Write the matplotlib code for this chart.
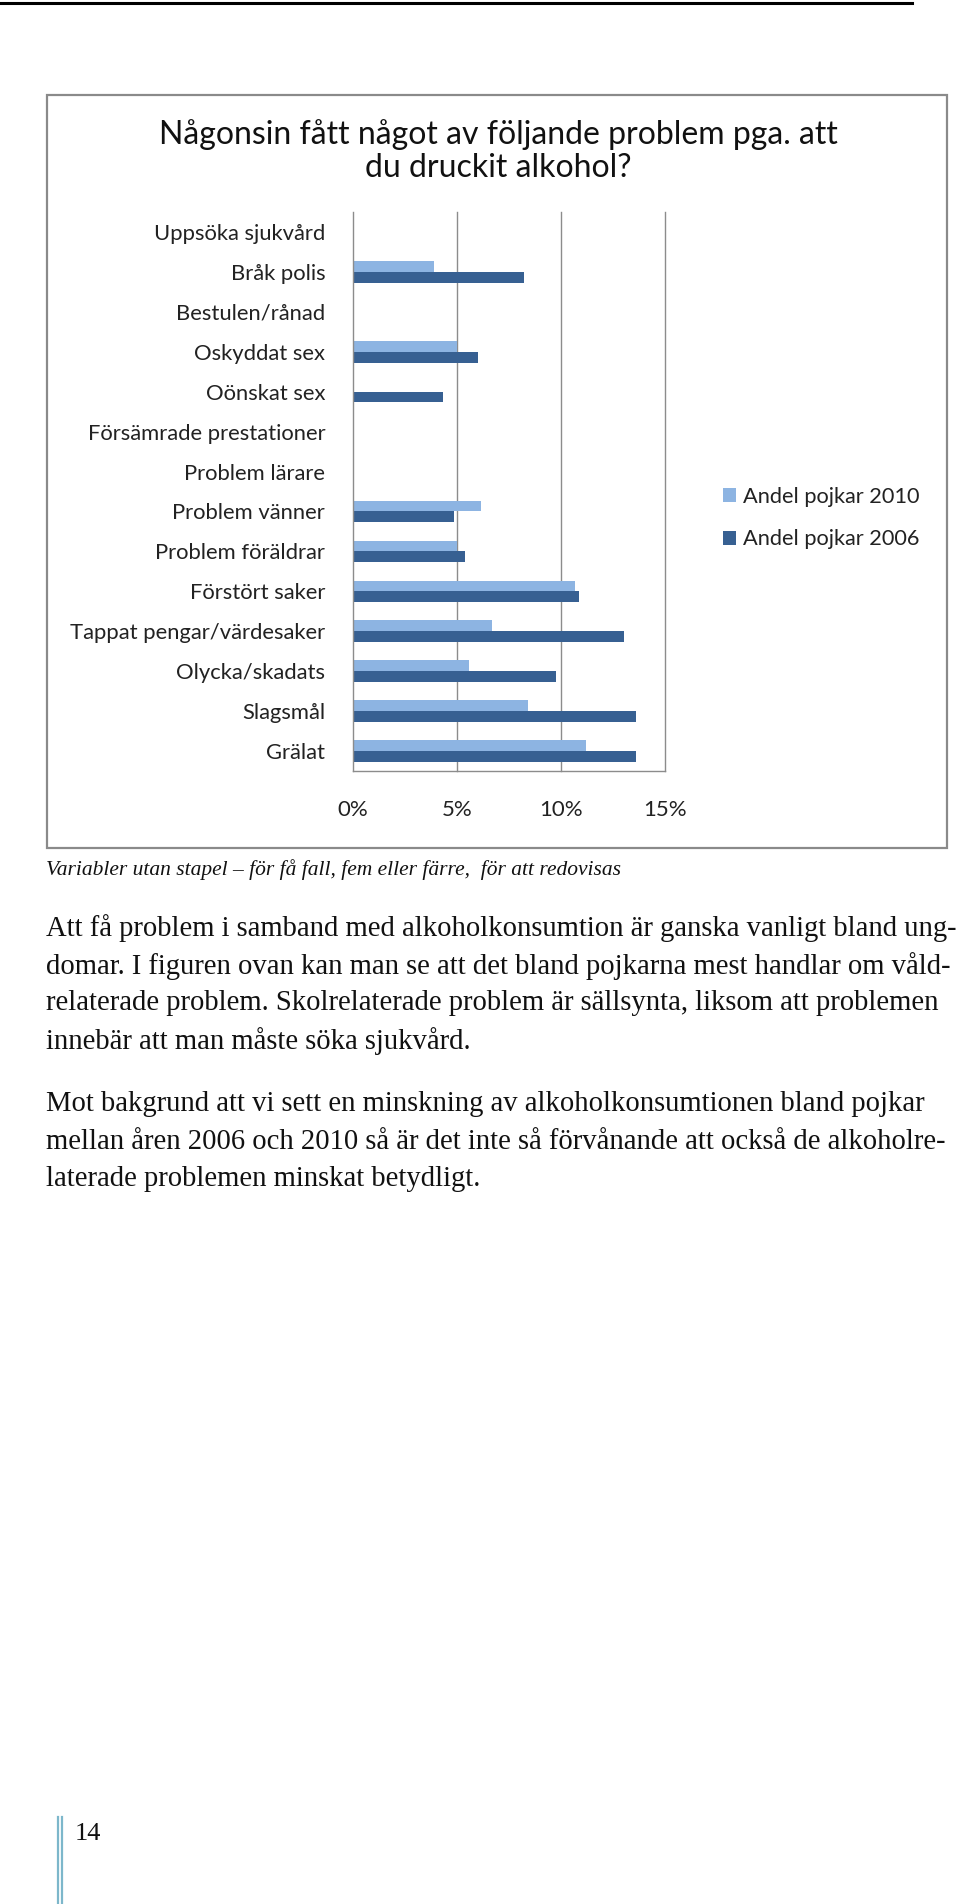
import numpy as np
import matplotlib
matplotlib.use('Agg')
import matplotlib.pyplot as plt
from matplotlib.patches import Rectangle
from matplotlib.lines import Line2D

W, H = 960, 1904

categories = ['Uppsöka sjukvård', 'Bråk polis', 'Bestulen/rånad', 'Oskyddat sex',
              'Oönskat sex', 'Försämrade prestationer', 'Problem lärare',
              'Problem vänner', 'Problem föräldrar', 'Förstört saker',
              'Tappat pengar/värdesaker', 'Olycka/skadats', 'Slagsmål', 'Grälat']
# shares in %, 0 = too few cases to report
andel_2010 = [0, 3.9, 0, 5.0, 0, 0, 0, 6.15, 5.0, 10.65, 6.7, 5.6, 8.4, 11.2]
andel_2006 = [0, 8.2, 0, 6.0, 4.35, 0, 0, 4.85, 5.4, 10.85, 13.05, 9.75, 13.6, 13.6]
series_labels = ['Andel pojkar 2010', 'Andel pojkar 2006']
x_ticks = [0, 5, 10, 15]

title = 'Någonsin fått något av följande problem pga. att\ndu druckit alkohol?'
note = 'Variabler utan stapel – för få fall, fem eller färre,  för att redovisas'
para_lines = [
    'Att få problem i samband med alkoholkonsumtion är ganska vanligt bland ung-',
    'domar. I figuren ovan kan man se att det bland pojkarna mest handlar om våld-',
    'relaterade problem. Skolrelaterade problem är sällsynta, liksom att problemen',
    'innebär att man måste söka sjukvård.',
    None,
    'Mot bakgrund att vi sett en minskning av alkoholkonsumtionen bland pojkar',
    'mellan åren 2006 och 2010 så är det inte så förvånande att också de alkoholre-',
    'laterade problemen minskat betydligt.',
]
page_no = '14'

c2010 = '#8DB4E2'
c2006 = '#376092'
grid_c = '#8C8C8C'
sans = ['Lato', 'DejaVu Sans']
serif = ['Liberation Serif', 'DejaVu Serif']


def fx(px):
    return px / W


def fy(py):
    return 1 - py / H


fig = plt.figure(figsize=(W / 100, H / 100), dpi=100)
fig.patch.set_facecolor('white')

# page header rule
fig.add_artist(Line2D([fx(0), fx(912)], [fy(3), fy(3)], color='black', lw=2.2))

# chart frame
fig.add_artist(Rectangle((fx(47), fy(848)), fx(947) - fx(47), fy(95) - fy(848),
                         fill=False, edgecolor='#8A8A8A', lw=1.6))

fig.text(fx(498), fy(151), title, ha='center', va='center', fontsize=23,
         family=sans, color='#111111', linespacing=1.15)

ax = fig.add_axes([fx(353), fy(771), fx(665) - fx(353), fy(212) - fy(771)])
y = np.arange(len(categories))
h = 0.27
ax.barh(y - h / 2, andel_2010, height=h, color=c2010, label=series_labels[0])
ax.barh(y + h / 2, andel_2006, height=h, color=c2006, label=series_labels[1])
ax.set_ylim(len(categories) - 0.5, -0.5)
ax.set_xlim(0, 15)
ax.set_xticks(x_ticks)
ax.set_xticklabels([f'{t}%' for t in x_ticks], family=sans, fontsize=16, color='#222222')
ax.set_yticks(y)
ax.set_yticklabels(categories, family=sans, fontsize=15.8, color='#222222')
ax.tick_params(axis='both', length=0)
ax.tick_params(axis='y', pad=20)
ax.tick_params(axis='x', pad=21)
for t in x_ticks[1:]:
    ax.axvline(t, color=grid_c, lw=1, zorder=0, clip_on=False)
for s in ['top', 'right']:
    ax.spines[s].set_visible(False)
for s in ['left', 'bottom']:
    ax.spines[s].set_color(grid_c)
    ax.spines[s].set_linewidth(1)

leg = fig.legend(loc='center left', bbox_to_anchor=(fx(703), fy(518)), frameon=False,
                 prop={'family': sans, 'size': 15.7}, handlelength=0.6, handleheight=0.6,
                 handletextpad=0.35, labelspacing=1.05)
for txt in leg.get_texts():
    txt.set_color('#222222')

fig.text(fx(46), fy(870), note, ha='left', va='center', fontsize=15.5,
         family=serif, style='italic', color='#111111')

y0 = 928
for ln in para_lines:
    if ln is not None:
        fig.text(fx(46), fy(y0), ln, ha='left', va='center', fontsize=20.6,
                 family=serif, color='#111111')
    y0 += 37.7 if ln is not None else 25

# page number with double blue rule
fig.add_artist(Line2D([fx(58), fx(58)], [fy(1817), fy(1904)], color='#7DB7CB', lw=1.6))
fig.add_artist(Line2D([fx(62), fx(62)], [fy(1817), fy(1904)], color='#7DB7CB', lw=1.6))
fig.text(fx(75), fy(1834), page_no, ha='left', va='center', fontsize=19,
         family=serif, color='#111111')

fig.savefig('out.png', dpi=100, facecolor='white')
